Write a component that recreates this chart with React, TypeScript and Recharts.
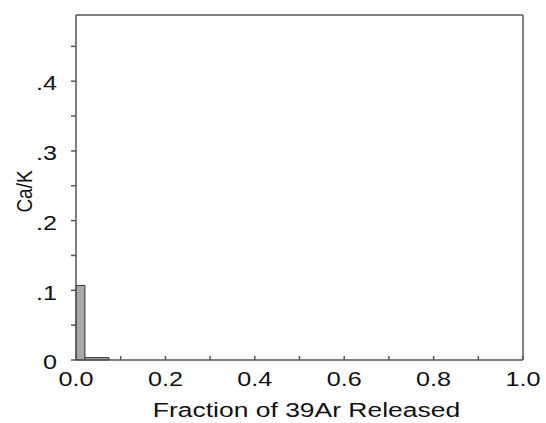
import { ComposedChart, XAxis, YAxis, ReferenceArea, Line, Label } from "recharts"

// step bins: start, end of fraction released, and Ca/K value
const binStart = [0.0, 0.02]
const binEnd = [0.02, 0.074]
const caK = [0.107, 0.0034]

const yLabelTicks = [0, 0.1, 0.2, 0.3, 0.4]
const yAllTicks = [0, 0.05, 0.1, 0.15, 0.2, 0.25, 0.3, 0.35, 0.4, 0.45]
const xAllTicks = [0, 0.1, 0.2, 0.3, 0.4, 0.5, 0.6, 0.7, 0.8, 0.9, 1.0]
const xLabelTicks = [0, 0.2, 0.4, 0.6, 0.8, 1.0]

const AXIS = "#555"
const INK = "#111"
const FONT = "'Liberation Sans', Arial, sans-serif"
const WIDE = 1.26 // the original lettering is stretched sideways

const fmtY = (v: number) => {
  if (!yLabelTicks.some((t) => Math.abs(t - v) < 1e-6)) return ""
  return v === 0 ? "0" : "." + Math.round(v * 10)
}
const fmtX = (v: number) =>
  xLabelTicks.some((t) => Math.abs(t - v) < 1e-6) ? v.toFixed(1) : ""

const data = binStart.map((s, i) => ({ x: s, y: caK[i] }))

const XTick = (props: any) => {
  const { x, y, payload } = props
  const s = fmtX(payload.value)
  if (!s) return null
  return (
    <text
      transform={`translate(${x},${y}) scale(${WIDE},1)`}
      textAnchor="middle"
      dy="0.72em"
      fill={INK}
      fontSize={20}
      fontFamily={FONT}
    >
      {s}
    </text>
  )
}

const YTick = (props: any) => {
  const { x, y, payload } = props
  const s = fmtY(payload.value)
  if (!s) return null
  return (
    <text
      transform={`translate(${x},${y + 2}) scale(${WIDE},1)`}
      textAnchor="end"
      dy="0.36em"
      fill={INK}
      fontSize={20}
      fontFamily={FONT}
    >
      {s}
    </text>
  )
}

const XTitle = (props: any) => {
  const { x, y, width } = props.viewBox
  return (
    <text
      transform={`translate(${x + width / 2 + 7},${y + 57}) scale(${WIDE},1)`}
      textAnchor="middle"
      fill={INK}
      fontSize={21}
      fontFamily={FONT}
    >
      Fraction of 39Ar Released
    </text>
  )
}

const YTitle = (props: any) => {
  const { y, height } = props.viewBox
  return (
    <text
      transform={`translate(32,${y + height / 2 + 4}) rotate(-90) scale(1,1.2)`}
      textAnchor="middle"
      fill={INK}
      fontSize={19}
      fontFamily={FONT}
    >
      Ca/K
    </text>
  )
}

export default function App() {
  return (
    <div style={{ position: "absolute", left: 0, top: 0 }}>
      <ComposedChart
        width={546}
        height={423}
        data={data}
        margin={{ top: 0, right: 0, bottom: 0, left: 0 }}
      >
        <XAxis
          xAxisId="b"
          dataKey="x"
          type="number"
          domain={[0, 1]}
          ticks={xAllTicks}
          height={63}
          tickSize={-4}
          tickMargin={16}
          stroke={AXIS}
          strokeWidth={1.5}
          tick={<XTick />}
          interval={0}
        >
          <Label content={<XTitle />} />
        </XAxis>
        <XAxis
          xAxisId="t"
          orientation="top"
          dataKey="x"
          type="number"
          domain={[0, 1]}
          ticks={xAllTicks}
          tick={false}
          height={15}
          tickSize={4}
          stroke={AXIS}
          strokeWidth={1.5}
        />
        <YAxis
          yAxisId="l"
          type="number"
          domain={[0, 0.495]}
          ticks={yAllTicks}
          width={76}
          tickSize={5}
          tickMargin={14}
          stroke={AXIS}
          strokeWidth={1.5}
          tick={<YTick />}
          interval={0}
          allowDataOverflow
        >
          <Label content={<YTitle />} />
        </YAxis>
        <YAxis
          yAxisId="r"
          orientation="right"
          type="number"
          domain={[0, 0.495]}
          ticks={yAllTicks}
          tick={false}
          width={23}
          tickSize={5}
          stroke={AXIS}
          strokeWidth={1.5}
          interval={0}
          allowDataOverflow
        />
        <Line
          xAxisId="b"
          yAxisId="l"
          dataKey="y"
          stroke="none"
          dot={false}
          isAnimationActive={false}
        />
        {binStart.map((s, i) => (
          <ReferenceArea
            key={i}
            xAxisId="b"
            yAxisId="l"
            x1={s}
            x2={binEnd[i]}
            y1={0}
            y2={caK[i]}
            fill="#aaaaaa"
            fillOpacity={1}
            stroke="#333"
            strokeWidth={1}
            ifOverflow="visible"
          />
        ))}
      </ComposedChart>
    </div>
  )
}
